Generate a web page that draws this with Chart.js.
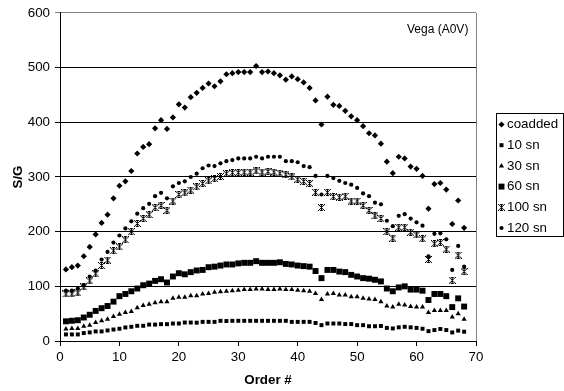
<!DOCTYPE html>
<html><head><meta charset="utf-8">
<script src="https://cdn.jsdelivr.net/npm/chart.js@4.4.0/dist/chart.umd.min.js"></script>
<style>html,body{margin:0;padding:0;background:#fff;}#wrap{width:564px;height:391px;position:relative;}</style>
</head><body><div id="wrap"><canvas id="c" width="564" height="391"></canvas></div>
<script>
const orders = [1,2,3,4,5,6,7,8,9,10,11,12,13,14,15,16,17,18,19,20,21,22,23,24,25,26,27,28,29,30,31,32,33,34,35,36,37,38,39,40,41,42,43,44,45,46,47,48,49,50,51,52,53,54,55,56,57,58,59,60,61,62,63,64,65,66,67,68];
const coadded = [131,135,138,155,172,195,216,231,261,284,292,311,343,355,360,389,404,388,409,433,427,446,454,463,471,466,475,488,490,492,492,492,503,492,493,490,486,478,484,479,473,463,440,396,447,432,430,421,411,404,393,380,376,361,328,307,337,334,319,315,302,242,287,289,277,214,257,207];
const sn10 = [12,12,12,14.5,15.7,17.5,17.5,19.3,21,22.4,24.8,26,27.8,27.8,30,30,30.8,30.8,32,32,33.8,33.8,33.5,35,35,35,36.9,36.5,36.9,36.9,36.9,36.9,36.9,36.9,36.9,36.9,36.9,36.9,35,35,35,35,33,29,32,32,32,31,31,29,29,27,27,27.5,24,23,25,26,25,24,22.4,18,20,22,20,15.7,19,17];
const sn30 = [22,23,23,27,29,34,37,40,45,49,52,54,61,65,67,70,72,72,78,80,80,83,83,86,87,89,90,91,92,93,94,94,95,95,94,94,95,94,94,93,92,91,87,76,86,87,84,84,81,81,78,77,76,72,64,62,67,66,63,62,62,52,56,56,56,44,50,40];
const sn60 = [36,37,38,43,48,55,60,64,72,82,86,91,96,102,105,110,113,107,118,124,122,126,129,130,135,136,138,140,140,142,143,143,146,143,143,143,144,141,140,138,137,136,128,115,130,130,127,126,121,118,115,114,112,109,96,91,98,100,94,94,92,75,86,86,82,62,78,63];
const sn100 = [86,86,88,99,110,123,138,148,165,172,185,200,215,224,231,244,248,239,256,268,271,276,282,288,293,297,301,306,308,308,309,309,311,309,310,309,307,304,300,296,292,288,272,244,272,264,263,265,256,256,248,239,229,224,200,188,208,208,199,194,187,149,178,180,168,111,157,127];
const sn120 = [92,92,96,102,118,129,149,163,180,193,206,219,233,243,251,265,271,261,283,289,292,300,306,316,321,320,325,329,331,334,334,334,337,334,337,337,337,329,329,327,320,318,302,268,302,298,293,289,286,280,270,265,253,250,220,210,229,232,224,217,211,155,196,197,186,130,174,136];
const seriesNames = ['coadded','10 sn','30 sn','60 sn','100 sn','120 sn'];
const xTicks = [0,10,20,30,40,50,60,70];
const yTicks = [0,100,200,300,400,500,600];
const noteText = 'Vega (A0V)';

function makeStar(){
  const c = document.createElement('canvas'); c.width = 7; c.height = 7;
  const g = c.getContext('2d'); g.fillStyle = '#000';
  for (let i = 0; i < 7; i++) { g.fillRect(i, i, 1, 1); g.fillRect(6 - i, i, 1, 1); }
  g.fillRect(3, 0, 1, 7);
  g.fillRect(2, 0, 3, 1); g.fillRect(2, 6, 3, 1);
  return c;
}
const star = makeStar();
const styles = [
  {pointStyle:'rectRot', pointRadius:3.1},
  {pointStyle:'rect', pointRadius:2.8},
  {pointStyle:'triangle', pointRadius:3},
  {pointStyle:'rect', pointRadius:4.2},
  {pointStyle:star, pointRadius:4},
  {pointStyle:'circle', pointRadius:2.1}
];
const allVals = [coadded, sn10, sn30, sn60, sn100, sn120];
const datasets = allVals.map((vals, k) => ({
  label: seriesNames[k],
  data: orders.map((o, i) => ({x:o, y:vals[i]})),
  showLine: false,
  backgroundColor: '#000',
  borderColor: '#000',
  borderWidth: 0,
  pointStyle: styles[k].pointStyle,
  pointRadius: styles[k].pointRadius,
  pointHoverRadius: styles[k].pointRadius
}));

const FONT = '"Liberation Sans", Arial, sans-serif';
const extras = {
  id: 'extras',
  afterDraw(chart){
    const ctx = chart.ctx, a = chart.chartArea;
    ctx.save();
    ctx.strokeStyle = '#808080'; ctx.lineWidth = 1;
    ctx.beginPath();
    ctx.moveTo(Math.round(a.right)+0.5, a.top); ctx.lineTo(Math.round(a.right)+0.5, a.bottom);
    ctx.stroke();
    ctx.fillStyle = '#000';
    ctx.font = '12px ' + FONT;
    ctx.textAlign = 'left'; ctx.textBaseline = 'middle';
    ctx.fillText(noteText, 407, 30);
    ctx.strokeStyle = '#000';
    ctx.strokeRect(496.5, 113.5, 67, 123);
    ctx.font = '13.33px ' + FONT;
    seriesNames.forEach((n, k) => {
      const y = 124.5 + k * 20.7;
      const st = styles[k];
      ctx.fillStyle = '#000'; ctx.strokeStyle = '#000';
      Chart.helpers.drawPoint(ctx, {pointStyle: st.pointStyle, radius: st.pointRadius, rotation: 0, borderWidth: 0}, 501.5, y);
      ctx.fillStyle = '#000';
      ctx.fillText(n, 507, y);
    });
    ctx.restore();
  }
};

new Chart(document.getElementById('c'), {
  type: 'scatter',
  data: {datasets},
  options: {
    responsive: false, animation: false, devicePixelRatio: 1,
    layout: {padding: {left: 0, right: 88, top: 10, bottom: 0}},
    plugins: {legend: {display: false}, tooltip: {enabled: false}},
    scales: {
      x: {
        type: 'linear', min: 0, max: 70,
        afterBuildTicks: s => { s.ticks = xTicks.map(v => ({value: v})); },
        afterFit: s => { s.height = 50; },
        ticks: {color: '#000', font: {family: FONT, size: 13.33}, padding: 3, maxRotation: 0},
        grid: {drawOnChartArea: false, drawTicks: true, tickLength: 5, color: '#000'},
        border: {color: '#000', width: 1},
        title: {display: true, text: 'Order #', color: '#000', font: {family: FONT, size: 13.33, weight: 'bold'}, padding: {top: 0, bottom: 3}}
      },
      y: {
        min: 0, max: 600,
        afterBuildTicks: s => { s.ticks = yTicks.map(v => ({value: v})); },
        afterFit: s => { s.width = 60; },
        ticks: {color: '#000', font: {family: FONT, size: 13.33}, padding: 5},
        grid: {drawTicks: true, tickLength: 5, color: ctx => (ctx.tick && ctx.tick.value === 600) ? '#808080' : '#000'},
        border: {color: '#000', width: 1},
        title: {display: true, text: 'S/G', color: '#000', font: {family: FONT, size: 13.33, weight: 'bold'}, padding: {top: 10, bottom: 0}}
      }
    }
  },
  plugins: [extras]
});
</script></body></html>
